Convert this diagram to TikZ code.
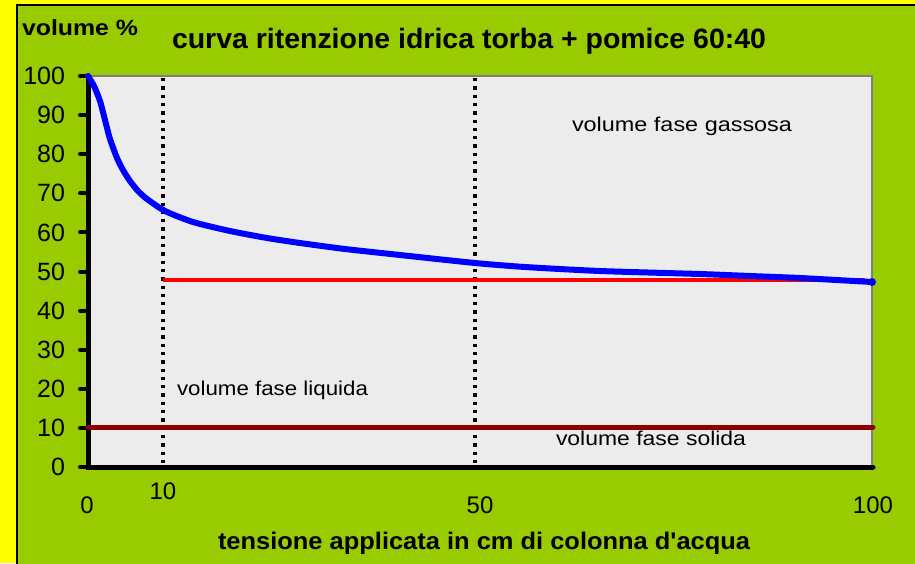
\documentclass[tikz,border=0pt]{standalone}
\usepackage{fontspec}
\usepackage{graphicx}
\setmainfont{Liberation Sans}[Ligatures=TeXOff]
\definecolor{bgyellow}{HTML}{FFFF00}
\definecolor{chartgreen}{HTML}{99CC00}
\definecolor{plotgray}{HTML}{ECECEC}
\definecolor{framegray}{HTML}{808080}
\definecolor{curveblue}{HTML}{0000FF}
\definecolor{linered}{HTML}{FF0000}
\definecolor{darkred}{HTML}{8B0000}
\newcommand{\fitw}[2]{\resizebox{#1}{\height}{#2}}
\tikzset{
  lbl/.style={inner sep=0pt, outer sep=0pt},
  ytick/.style={lbl, anchor=east, font=\fontsize{25}{27}\selectfont},
  xtick/.style={lbl, anchor=base, font=\fontsize{24}{26}\selectfont},
  phase/.style={lbl, anchor=base west, font=\fontsize{20}{22}\selectfont},
  guide/.style={line width=3.3pt, dash pattern=on 3.3pt off 5pt},
  tickmark/.style={line width=4pt, line cap=round},
}
\begin{document}
\begin{tikzpicture}[x=1pt,y=-1pt]
\useasboundingbox (0,0) rectangle (915,563);
\fill[bgyellow] (0,0) rectangle (915,563);
\fill[chartgreen] (17,5) rectangle (916,564);
\draw[black, line width=1.5pt] (916,5) -- (17,5) -- (17,564);
% plot area
\fill[plotgray] (88,76) rectangle (872,467);
\draw[framegray, line width=2pt] (88,76) -- (872,76) -- (872,467);
% axes
\coordinate (o) at (88,467);
\coordinate (ytop) at (88,76);
\coordinate (xend) at (873,467);
\draw[line width=5pt, line cap=round] (ytop) -- (o) -- (xend);
\foreach \v in {0,10,...,100}{
  \coordinate (t\v) at (88,{467-3.91*\v});
  \draw[tickmark] (80,{467-3.91*\v}) -- (t\v);
  \node[ytick] (yl\v) at (65,{467-3.91*\v}) {\v};
}
% x tick labels
\node[xtick] (xl0) at (87,513) {0};
\node[xtick] (xl10) at (163,499) {10};
\node[xtick] (xl50) at (480,513) {50};
\node[xtick] (xl100) at (873,513) {100};
% dotted guides
\coordinate (g10t) at (163,78);
\coordinate (g10b) at (163,466);
\coordinate (g50t) at (475,78);
\coordinate (g50b) at (475,466);
\draw[guide] (g10t) -- (g10b);
\draw[guide] (g50t) -- (g50b);
% solid phase line
\coordinate (sa) at (88,427);
\coordinate (sb) at (873,427);
\draw[darkred, line width=5pt, line cap=round] (sa) -- (sb);
% red line
\coordinate (ra) at (163,280);
\coordinate (rb) at (865,280);
\draw[linered, line width=4pt] (ra) -- (rb);
% retention curve
\draw[curveblue, line width=6pt, line cap=round, line join=round] plot[smooth, tension=0.4] coordinates {
 (88,76) (94,86) (100,101) (105,120) (110,139) (117,158) (123,170) (130,181)
 (138,191) (147,199) (165,211) (193,222) (230,231) (267,238) (300,243)
 (345,249) (400,255) (475,263) (525,267) (600,271) (700,274) (750,276)
 (800,278) (872,282)};
\coordinate (cend) at (872,282);
\fill[curveblue] (cend) circle (4pt);
% texts
\node[lbl, anchor=base west, font=\bfseries\fontsize{22}{24}\selectfont] (ylab) at (22,35) {\fitw{116pt}{volume \%}};
\node[lbl, anchor=base west, font=\bfseries\fontsize{28}{30}\selectfont] (title) at (172,48) {\fitw{594pt}{curva ritenzione idrica torba + pomice 60:40}};
\node[lbl, anchor=base west, font=\bfseries\fontsize{24}{26}\selectfont] (xlab) at (218,549) {\fitw{532pt}{tensione applicata in cm di colonna d'acqua}};
\node[phase] (gas) at (572,131) {\fitw{220pt}{volume fase gassosa}};
\node[phase] (liq) at (177,395) {\fitw{191pt}{volume fase liquida}};
\node[phase] (sol) at (556,445) {\fitw{190pt}{volume fase solida}};
\end{tikzpicture}
\end{document}
